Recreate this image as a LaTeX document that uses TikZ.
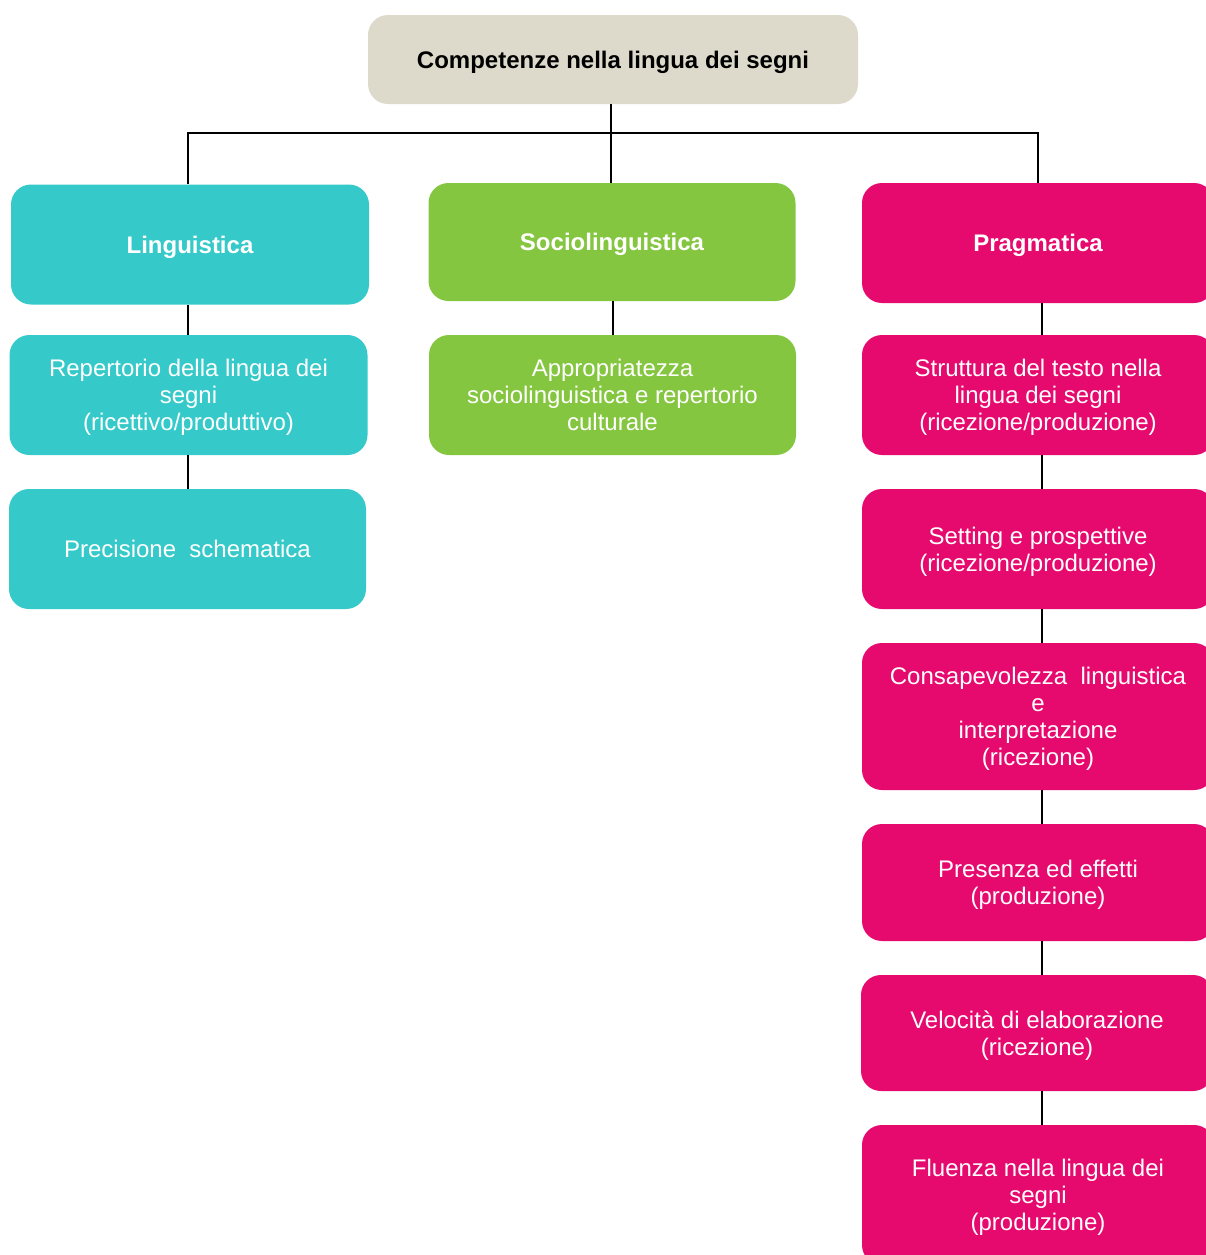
\documentclass[tikz,border=0pt]{standalone}
\usepackage{fontspec}
\setmainfont{Liberation Sans}
\definecolor{rootgray}{HTML}{DEDACB}
\definecolor{lingcyan}{HTML}{36C9C9}
\definecolor{socgreen}{HTML}{85C640}
\definecolor{pragpink}{HTML}{E6096E}

\begin{document}
\begin{tikzpicture}[x=0.5pt,y=-0.5pt,
  box/.style={rounded corners=10pt, inner sep=0pt, align=center, text=white,
    font=\fontsize{12}{13.5}\selectfont, text depth=0pt},
  ling/.style={box, fill=lingcyan, minimum width=179pt, minimum height=60pt},
  soc/.style={box, fill=socgreen, minimum width=183.5pt, minimum height=59.5pt},
  prag/.style={box, fill=pragpink, minimum width=176pt, minimum height=60pt},
  head/.style={font=\fontsize{12}{13.5}\selectfont\bfseries},
  link/.style={draw=black, line width=1pt}]
  \clip (0,0) rectangle (1206,1255);
  % root
  \node[box, fill=rootgray, text=black, head, minimum width=245pt, minimum height=44.5pt] (comp) at (613,59.5) {Competenze nella lingua dei segni};
  \coordinate (bus) at (611,133);
  \coordinate (lcol) at (188,0);
  \coordinate (pcol) at (1042,0);
  % three branches
  \node[ling, head] (ling) at (190,244.5) {Linguistica};
  \node[soc, head, minimum height=59pt] (soc) at (612,242) {Sociolinguistica};
  \node[prag, head] (prag) at (1038,243) {Pragmatica};
  % linguistica column
  \node[ling] (rep) at (188.5,395) {Repertorio della lingua dei\\segni\\(ricettivo/produttivo)};
  \node[ling, minimum width=178.5pt] (prec) at (187.5,549) {Precisione\ \ schematica};
  % sociolinguistica column
  \node[soc, minimum height=60pt] (appr) at (612.5,395) {Appropriatezza\\sociolinguistica e repertorio\\culturale};
  % pragmatica column
  \node[prag] (strut) at (1038,395) {Struttura del testo nella\\lingua dei segni\\(ricezione/produzione)};
  \node[prag] (sett) at (1038,549) {Setting e prospettive\\(ricezione/produzione)};
  \node[prag, minimum height=73.5pt] (cons) at (1038,716.5) {Consapevolezza\ \ linguistica\\e\\interpretazione\\(ricezione)};
  \node[prag, minimum height=58.5pt] (pres) at (1038,882.5) {Presenza ed effetti\\(produzione)};
  \node[prag, minimum height=58pt] (velo) at (1037,1033) {Velocità di elaborazione\\(ricezione)};
  \node[prag, minimum height=70pt] (flue) at (1038,1195) {Fluenza nella lingua dei\\segni\\(produzione)};
  % connectors
  \draw[link] (comp.south -| bus) -- (bus |- soc.north);
  \draw[link] (ling.north -| lcol) -- (bus -| lcol) -- (prag.north |- bus) -- (prag.north);
  \draw[link] (ling.south -| lcol) -- (rep.north -| lcol);
  \draw[link] (rep.south -| lcol) -- (prec.north -| lcol);
  \draw[link] (soc.south -| appr) -- (appr.north);
  \draw[link] (prag.south -| pcol) -- (strut.north -| pcol);
  \draw[link] (strut.south -| pcol) -- (sett.north -| pcol);
  \draw[link] (sett.south -| pcol) -- (cons.north -| pcol);
  \draw[link] (cons.south -| pcol) -- (pres.north -| pcol);
  \draw[link] (pres.south -| pcol) -- (velo.north -| pcol);
  \draw[link] (velo.south -| pcol) -- (flue.north -| pcol);
\end{tikzpicture}
\end{document}
